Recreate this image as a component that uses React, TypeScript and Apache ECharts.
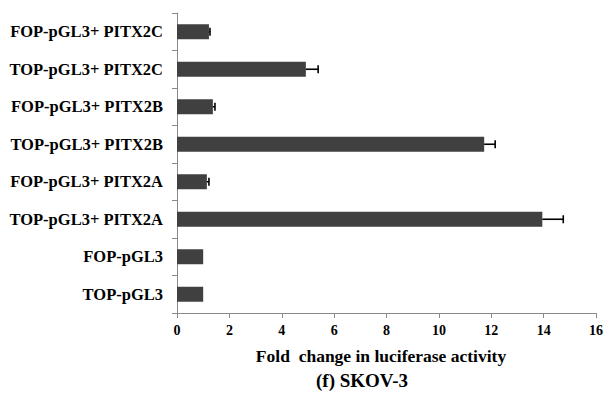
import React, { useEffect, useRef } from "react";
import * as echarts from "echarts";

const categories = [
  "TOP-pGL3",
  "FOP-pGL3",
  "TOP-pGL3+ PITX2A",
  "FOP-pGL3+ PITX2A",
  "TOP-pGL3+ PITX2B",
  "FOP-pGL3+ PITX2B",
  "TOP-pGL3+ PITX2C",
  "FOP-pGL3+ PITX2C",
];
const foldValues = [1.0, 1.0, 13.95, 1.14, 11.73, 1.37, 4.92, 1.22];
const errorPlus = [0, 0, 0.8, 0.08, 0.42, 0.08, 0.47, 0.04];
const xTicks = { min: 0, max: 16, interval: 2 };

export default function App() {
  const ref = useRef<HTMLDivElement>(null);
  useEffect(() => {
    const chart = echarts.init(ref.current!, null, { renderer: "svg" });
    const font = "'Liberation Serif', 'Times New Roman', serif";
    const errData = categories.map((_, i) => [foldValues[i], i, errorPlus[i]]);
    chart.setOption({
      animation: false,
      backgroundColor: "#ffffff",
      textStyle: { fontFamily: font },
      title: [
        {
          text: "Fold  change in luciferase activity",
          left: 376,
          top: 342,
          textAlign: "center",
          textStyle: { fontFamily: font, fontWeight: "bold", fontSize: 17.5, color: "#000" },
        },
        {
          text: "(f) SKOV-3",
          left: 357,
          top: 366,
          textAlign: "center",
          textStyle: { fontFamily: font, fontWeight: "bold", fontSize: 19, color: "#000" },
        },
      ],
      grid: { left: 177, right: 8, top: 13, bottom: 84, containLabel: false },
      xAxis: {
        type: "value",
        min: xTicks.min,
        max: xTicks.max,
        interval: xTicks.interval,
        splitLine: { show: false },
        axisLine: { show: true, lineStyle: { color: "#8a8a8a", width: 1 } },
        axisTick: { show: true, length: 5, lineStyle: { color: "#8a8a8a" } },
        axisLabel: {
          fontFamily: font,
          fontWeight: "bold",
          fontSize: 14,
          color: "#000",
          margin: 10,
        },
      },
      yAxis: {
        type: "category",
        data: categories,
        axisLine: { show: true, lineStyle: { color: "#8a8a8a", width: 1 } },
        axisTick: { show: true, length: 5, lineStyle: { color: "#8a8a8a" } },
        axisLabel: {
          fontFamily: font,
          fontWeight: "bold",
          fontSize: 16.5,
          color: "#000",
          margin: 14,
        },
      },
      series: [
        {
          type: "bar",
          data: foldValues,
          barWidth: 15,
          itemStyle: { color: "#404040" },
        },
        {
          type: "custom",
          data: errData,
          encode: { x: 0, y: 1 },
          z: 10,
          renderItem: (params: any, api: any) => {
            const v = api.value(0);
            const c = api.value(1);
            const e = api.value(2);
            if (!e) return { type: "group", children: [] };
            const p0 = api.coord([v, c]);
            const p1 = api.coord([v + e, c]);
            const h = 4;
            const style = { stroke: "#000", lineWidth: 1.6 };
            return {
              type: "group",
              children: [
                { type: "line", shape: { x1: p0[0], y1: p0[1], x2: p1[0], y2: p1[1] }, style },
                { type: "line", shape: { x1: p1[0], y1: p1[1] - h, x2: p1[0], y2: p1[1] + h }, style },
              ],
            };
          },
        },
      ],
    });
    return () => chart.dispose();
  }, []);
  return <div ref={ref} style={{ width: 606, height: 397, position: "absolute", left: 0, top: 0 }} />;
}
